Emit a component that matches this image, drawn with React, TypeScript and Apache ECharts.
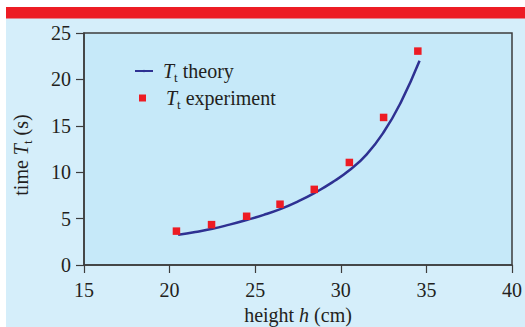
import React, { useEffect, useRef } from "react";
import * as echarts from "echarts";

const xTicks = { min: 15, max: 40, interval: 5 };
const yTicks = { min: 0, max: 25, interval: 5 };

const theoryH = [20.5, 21.5, 22.5, 23.5, 24.5, 25.5, 26.5, 27.5, 28.5, 29.5, 30.5, 31.5, 32.5, 33.5, 34.6];
const theoryT = [3.25, 3.55, 3.9, 4.35, 4.85, 5.4, 6.05, 6.85, 7.8, 8.9, 10.2, 11.9, 14.3, 17.5, 22.0];

const expH = [20.4, 22.45, 24.5, 26.45, 28.45, 30.5, 32.5, 34.5];
const expT = [3.65, 4.35, 5.25, 6.55, 8.15, 11.05, 15.9, 23.05];

const FONT = "'Liberation Serif', 'Times New Roman', serif";
const TEXT = "#231f20";

const richStyles = {
  n: { fontFamily: FONT, fontSize: 20, color: TEXT, lineHeight: 26 },
  i: { fontFamily: FONT, fontSize: 20, fontStyle: "italic", color: TEXT, lineHeight: 26 },
  s: { fontFamily: FONT, fontSize: 13, color: TEXT, lineHeight: 13, verticalAlign: "bottom" },
};

export default function App() {
  const ref = useRef<HTMLDivElement>(null);
  useEffect(() => {
    if (!ref.current) return;
    const chart = echarts.init(ref.current, undefined, { renderer: "svg" });
    const option = {
      animation: false,
      backgroundColor: "#ffffff",
      graphic: [
        { type: "rect", z: -10, shape: { x: 6, y: 18, width: 519, height: 309 }, style: { fill: "#d5eefa" } },
        { type: "rect", z: -10, shape: { x: 6, y: 7, width: 519, height: 11.5 }, style: { fill: "#ed1c24" } },
      ],
      grid: {
        left: 84,
        right: 13,
        top: 33,
        bottom: 62,
        outerBoundsMode: "none",
        containLabel: false,
        show: true,
        backgroundColor: "#c6e9f9",
        borderColor: "#3d3d3d",
        borderWidth: 1.5,
      },
      legend: [
        {
          data: ["T_t theory"],
          left: 134,
          top: 61,
          itemWidth: 18,
          itemHeight: 3,
          padding: 0,
          formatter: () => "{n| }{i|T}{s|t}{n| theory}",
          textStyle: { rich: richStyles },
        },
        {
          data: ["T_t experiment"],
          left: 139,
          top: 88,
          itemWidth: 7,
          itemHeight: 7,
          padding: 0,
          formatter: () => "{n|   }{i|T}{s|t}{n| experiment}",
          textStyle: { rich: richStyles },
        },
      ],
      xAxis: {
        type: "value",
        min: xTicks.min,
        max: xTicks.max,
        interval: xTicks.interval,
        name: "{n|height }{i|h}{n| (cm)}",
        nameLocation: "middle",
        nameGap: 37,
        nameTextStyle: { rich: richStyles },
        axisLine: { show: true, lineStyle: { color: "#3d3d3d", width: 1.5 } },
        axisTick: { show: true, length: 8, lineStyle: { color: "#3d3d3d", width: 1.2 } },
        axisLabel: { fontFamily: FONT, fontSize: 20, color: TEXT, margin: 15 },
        splitLine: { show: false },
      },
      yAxis: {
        type: "value",
        min: yTicks.min,
        max: yTicks.max,
        interval: yTicks.interval,
        name: "{n|time }{i|T}{s|t}{n| (s)}",
        nameLocation: "middle",
        nameGap: 50,
        nameTextStyle: { rich: richStyles, padding: [0, 12, 0, 0] },
        axisLine: { show: true, lineStyle: { color: "#3d3d3d", width: 1.5 } },
        axisTick: { show: true, length: 8, lineStyle: { color: "#3d3d3d", width: 1.2 } },
        axisLabel: { fontFamily: FONT, fontSize: 20, color: TEXT, margin: 13 },
        splitLine: { show: false },
      },
      series: [
        {
          name: "T_t theory",
          type: "line",
          smooth: true,
          symbol: "none",
          data: theoryH.map((h, i) => [h, theoryT[i]]),
          lineStyle: { color: "#2e3192", width: 2.5 },
          itemStyle: { color: "#2e3192" },
          z: 2,
        },
        {
          name: "T_t experiment",
          type: "scatter",
          symbol: "rect",
          symbolSize: 7.5,
          data: expH.map((h, i) => [h, expT[i]]),
          itemStyle: { color: "#ed1c24", opacity: 1 },
          z: 3,
        },
      ],
    };
    chart.setOption(option as any);
    return () => chart.dispose();
  }, []);
  return (
    <div
      ref={ref}
      style={{ position: "fixed", left: 0, top: 0, width: 525, height: 327 }}
    />
  );
}
